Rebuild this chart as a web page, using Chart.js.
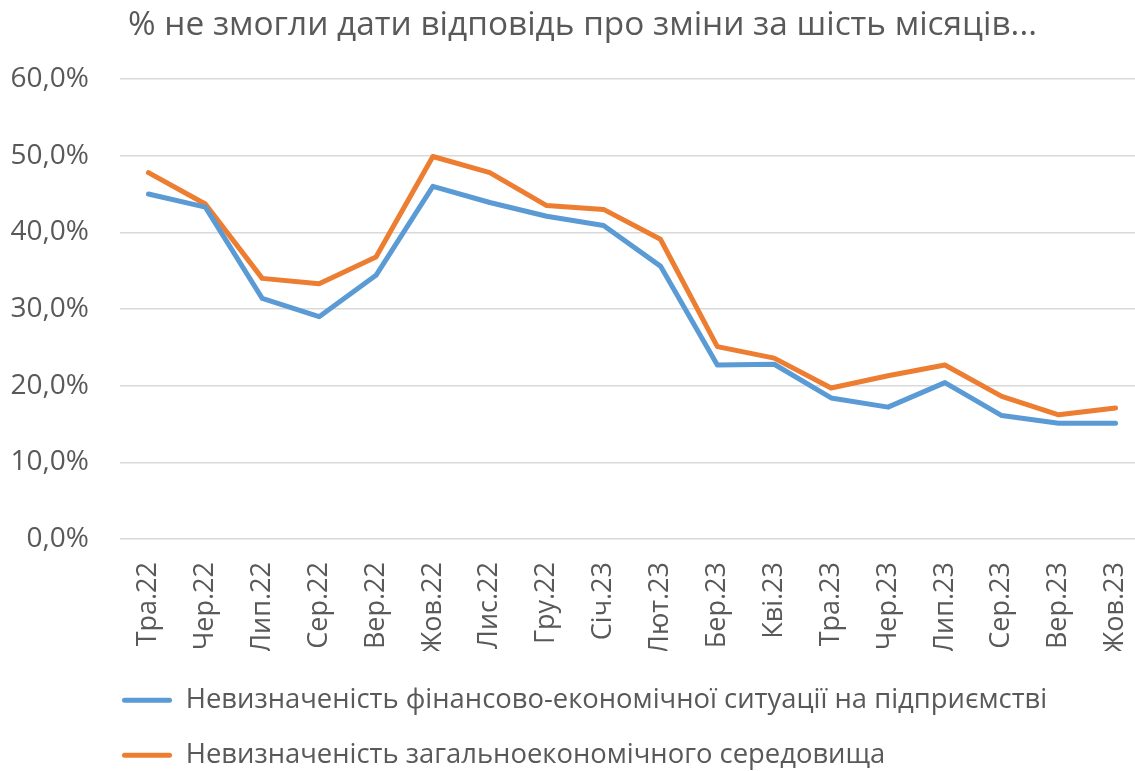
<!DOCTYPE html>
<html>
<head>
<meta charset="utf-8">
<script src="https://cdn.jsdelivr.net/npm/chart.js@4.4.0/dist/chart.umd.min.js"></script>
<style>
html,body{margin:0;padding:0;background:#fff;overflow:hidden;width:1135px;height:771px;}
#wrap{position:absolute;left:0;top:0;width:1144px;height:771px;}
</style>
</head>
<body>
<div id="wrap"><canvas id="c"></canvas></div>
<script>
const titleText = '% не змогли дати відповідь про зміни за шість місяців...';
const categories = ['Тра.22','Чер.22','Лип.22','Сер.22','Вер.22','Жов.22','Лис.22','Гру.22','Січ.23','Лют.23','Бер.23','Кві.23','Тра.23','Чер.23','Лип.23','Сер.23','Вер.23','Жов.23'];
const seriesNames = ['Невизначеність фінансово-економічної ситуації на підприємстві','Невизначеність загальноекономічного середовища'];
const financial = [45.0,43.3,31.4,29.0,34.4,46.0,43.9,42.1,40.9,35.6,22.7,22.8,18.4,17.2,20.4,16.1,15.1,15.1];
const general = [47.8,43.7,34.0,33.3,36.8,49.9,47.8,43.5,43.0,39.1,25.1,23.6,19.7,21.3,22.7,18.6,16.2,17.1];
const yTicks = [0,10,20,30,40,50,60];

const TXT = '#595959';
const FONT = '"Open Sans", sans-serif';
const layoutShift = {
  id:'layoutShift',
  afterLayout(chart){
    const lg = chart.legend;
    const pad = lg.options.labels.padding;
    const h = lg.height;
    lg.left = 122 - pad;
    lg.top = 659;
    lg.bottom = lg.top + h;
    chart.titleBlock.left = 21;
  }
};

new Chart(document.getElementById('c'), {
  type:'line',
  data:{
    labels:categories,
    datasets:[
      {label:seriesNames[0], data:financial, borderColor:'#5B9BD5', backgroundColor:'#5B9BD5'},
      {label:seriesNames[1], data:general, borderColor:'#ED7D31', backgroundColor:'#ED7D31'}
    ]
  },
  options:{
    responsive:true, maintainAspectRatio:false, animation:false,
    layout:{padding:{left:0,right:0,top:0,bottom:0}},
    elements:{
      line:{borderWidth:5, tension:0, borderJoinStyle:'round', borderCapStyle:'round'},
      point:{radius:0, hoverRadius:0}
    },
    plugins:{
      title:{display:true, text:titleText, color:TXT,
        font:{family:FONT, size:33.4, weight:'normal'},
        padding:{top:5,bottom:34}},
      legend:{position:'bottom', align:'start',
        labels:{color:TXT, boxWidth:50, boxHeight:5, padding:27.6,
          font:{family:FONT, size:27.4},
          generateLabels(chart){
            return chart.data.datasets.map((ds,i)=>({
              text:ds.label, fillStyle:ds.borderColor, strokeStyle:ds.borderColor,
              lineWidth:0, borderRadius:2.5, datasetIndex:i, hidden:false, fontColor:TXT
            }));
          }
        }
      },
      tooltip:{enabled:false}
    },
    scales:{
      x:{
        offset:true,
        grid:{display:false, drawTicks:false},
        border:{display:false},
        ticks:{color:TXT, font:{family:FONT, size:27}, minRotation:90, maxRotation:90, padding:23, autoSkip:false},
        afterFit(s){ s.height = 112; s.paddingLeft = 0; s.paddingRight = 0; }
      },
      y:{
        min:0, max:60,
        afterBuildTicks(s){ s.ticks = yTicks.map(v=>({value:v})); },
        grid:{color:'#D9D9D9', lineWidth:1.5, drawTicks:false},
        border:{display:false},
        ticks:{color:TXT, font:{family:FONT, size:28}, padding:31,
          callback:(v)=>v.toFixed(1).replace('.',',')+'%'},
        afterFit(s){ s.width = 120; }
      }
    }
  },
  plugins:[layoutShift]
});
</script>
</body>
</html>
